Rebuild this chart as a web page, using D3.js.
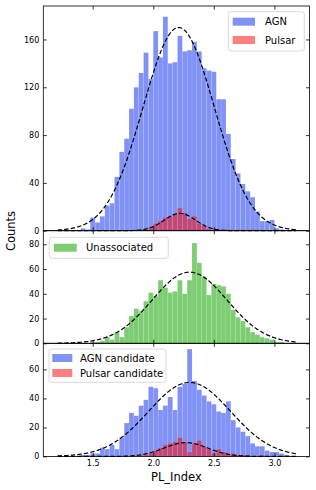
<!DOCTYPE html>
<html>
<head>
<meta charset="utf-8">
<script src="https://cdn.jsdelivr.net/npm/d3@7"></script>
<style>
  body { margin: 0; background: #fff; }
  svg { display: block; font-family: "DejaVu Sans", sans-serif; }
</style>
</head>
<body>
<div id="chart"></div>
<script>
// Histogram bins (left edges + last right edge), shared by every panel
const binEdges = [1.36, 1.40, 1.44, 1.48, 1.52, 1.56, 1.60, 1.64, 1.68, 1.72, 1.76,
  1.80, 1.84, 1.88, 1.92, 1.96, 2.00, 2.04, 2.08, 2.12, 2.16, 2.20, 2.24, 2.28,
  2.32, 2.36, 2.40, 2.44, 2.48, 2.52, 2.56, 2.60, 2.64, 2.68, 2.72, 2.76, 2.80,
  2.84, 2.88, 2.92, 2.96, 3.00, 3.04, 3.08, 3.12];

const agnCounts = [0, 2, 1, 11, 7, 12, 21, 23, 45, 66, 77, 102, 120, 132, 149, 127,
  167, 145, 179, 140, 141, 163, 150, 151, 158, 150, 136, 134, 133, 110, 110, 81,
  60, 48, 39, 33, 28, 16, 8, 8, 9, 2, 1, 0];
const pulsarCounts = [0, 0, 0, 0, 0, 0, 0, 0, 0, 0, 0, 0, 0, 0, 1, 3, 6, 8, 11, 12,
  14, 19, 15, 10, 12, 6, 4, 2, 1, 1, 1, 1, 0, 1, 1, 0, 1, 1, 0, 0, 0, 0, 0, 0];
const unassocCounts = [0, 0, 0, 1, 1, 2, 5, 3, 9, 5, 13, 22, 28, 26, 34, 41, 38, 51,
  45, 41, 42, 51, 40, 51, 81, 65, 54, 39, 48, 47, 46, 40, 27, 21, 18, 13, 9, 7,
  5, 4, 3, 1, 1, 0];
const agnCandCounts = [0, 1, 1, 2, 2, 6, 5, 8, 5, 13, 23, 30, 28, 35, 39, 48, 47, 32,
  35, 41, 32, 48, 50, 74, 52, 46, 42, 38, 36, 31, 30, 38, 25, 20, 17, 14, 9, 7,
  7, 4, 3, 3, 2, 1];
const pulsarCandCounts = [0, 0, 0, 0, 0, 0, 0, 0, 0, 0, 0, 0, 0, 1, 1, 2, 4, 6, 8, 9,
  10, 13, 10, 3, 9, 11, 7, 5, 2, 5, 3, 2, 2, 1, 1, 1, 0, 0, 1, 0, 0, 0, 0, 0];

// Gaussian fits: [mean, sigma, peak]
const agnFit = [2.21, 0.295, 170];
const pulsarFit = [2.22, 0.13, 14.5];
const unassocFit = [2.30, 0.31, 57.5];
const agnCandFit = [2.30, 0.34, 51];
const pulsarCandFit = [2.27, 0.18, 9.5];
const fitRange = [1.21, 3.18];

const xTicks = [1.5, 2.0, 2.5, 3.0];
const topYTicks = [0, 40, 80, 120, 160];
const midYTicks = [0, 20, 40, 60, 80];
const botYTicks = [0, 20, 40, 60];

const BLUE = "rgb(128,146,246)";
const GREEN = "rgb(125,206,115)";
const RED = "rgb(255,0,0)";

const width = 316;
const height = 490;
const left = 43.3;
const right = 309.5;
const tick = 3.5;

const svg = d3
  .select("#chart")
  .append("svg")
  .attr("width", width)
  .attr("height", height);

const x = d3.scaleLinear().domain([1.092, 3.29]).range([left, right]);

const panels = [
  {
    top: 6, bottom: 230.7, yMax: 188, yTicks: topYTicks,
    hists: [
      { counts: agnCounts, fill: BLUE, opacity: 1 },
      { counts: pulsarCounts, fill: RED, opacity: 0.5 },
    ],
    fits: [agnFit, pulsarFit],
    legend: {
      box: [228.3, 11.7, 76, 39.3], patchX: 232.7, patchW: 22.3, textX: 265,
      items: [
        { label: "AGN", fill: BLUE, opacity: 1, y: 21.7 },
        { label: "Pulsar", fill: RED, opacity: 0.5, y: 40 },
      ],
    },
  },
  {
    top: 230.7, bottom: 343.3, yMax: 91, yTicks: midYTicks,
    hists: [{ counts: unassocCounts, fill: GREEN, opacity: 1 }],
    fits: [unassocFit],
    legend: {
      box: [49.3, 237.3, 119, 21], patchX: 54, patchW: 22.7, textX: 86,
      items: [{ label: "Unassociated", fill: GREEN, opacity: 1, y: 247.7 }],
    },
  },
  {
    top: 343.3, bottom: 456.4, yMax: 78, yTicks: botYTicks,
    hists: [
      { counts: agnCandCounts, fill: BLUE, opacity: 1 },
      { counts: pulsarCandCounts, fill: RED, opacity: 0.5 },
    ],
    fits: [agnCandFit, pulsarCandFit],
    legend: {
      box: [49, 349, 117, 33.3], patchX: 52.3, patchW: 20, textX: 80,
      items: [
        { label: "AGN candidate", fill: BLUE, opacity: 1, y: 358 },
        { label: "Pulsar candidate", fill: RED, opacity: 0.5, y: 373 },
      ],
    },
  },
];

/*
 * Gaussian value of a fit at v
 *
 * @param fit - [mean, sigma, peak]
 */
const gauss = (fit, v) => fit[2] * Math.exp(-0.5 * Math.pow((v - fit[0]) / fit[1], 2));

const fitXs = d3.range(fitRange[0], fitRange[1] + 0.0001, 0.005);

panels.forEach((p, pi) => {
  const y = d3.scaleLinear().domain([0, p.yMax]).range([p.bottom, p.top]);
  const g = svg.append("g");

  // Bars
  p.hists.forEach((h) => {
    const bins = h.counts
      .map((c, i) => ({ c, x0: binEdges[i], x1: binEdges[i + 1] }))
      .filter((d) => d.c > 0);
    g.append("g")
      .selectAll("rect")
      .data(bins)
      .enter()
      .append("rect")
      .attr("x", (d) => x(d.x0))
      .attr("width", (d) => x(d.x1) - x(d.x0))
      .attr("y", (d) => y(d.c))
      .attr("height", (d) => y(0) - y(d.c))
      .attr("fill", h.fill)
      .attr("fill-opacity", h.opacity)
      .attr("stroke", "#fff")
      .attr("stroke-opacity", 0.15)
      .attr("stroke-width", 0.5);
  });

  // Gaussian fits
  p.fits.forEach((fit) => {
    g.append("path")
      .datum(fitXs)
      .attr("d", d3.line().x((d) => x(d)).y((d) => y(gauss(fit, d))))
      .attr("fill", "none")
      .attr("stroke", "#000")
      .attr("stroke-width", 1.2)
      .attr("stroke-dasharray", "4.4,2.2");
  });

  // Axes with inward ticks on all four sides
  const yLeft = d3.axisLeft(y).tickValues(p.yTicks).tickFormat(d3.format("d"))
    .tickSizeInner(-tick).tickSizeOuter(0).tickPadding(4);
  const yRight = d3.axisRight(y).tickValues(p.yTicks).tickFormat("")
    .tickSizeInner(-tick).tickSizeOuter(0);
  const xTop = d3.axisTop(x).tickValues(xTicks).tickFormat("")
    .tickSizeInner(-tick).tickSizeOuter(0);
  const xBottom = d3.axisBottom(x).tickValues(xTicks)
    .tickFormat(pi === panels.length - 1 ? d3.format(".1f") : "")
    .tickSizeInner(-tick).tickSizeOuter(0).tickPadding(4);

  const axes = [
    g.append("g").attr("transform", `translate(${left},0)`).call(yLeft),
    g.append("g").attr("transform", `translate(${right},0)`).call(yRight),
    g.append("g").attr("transform", `translate(0,${p.top})`).call(xTop),
    g.append("g").attr("transform", `translate(0,${p.bottom})`).call(xBottom),
  ];
  axes.forEach((a) => {
    a.select(".domain").remove();
    a.selectAll("line").attr("stroke", "#000").attr("stroke-width", 0.8);
    a.selectAll("text").attr("font-size", 8).attr("fill", "#000")
      .attr("font-family", "DejaVu Sans, sans-serif");
  });

  // Frame
  g.append("rect")
    .attr("x", left)
    .attr("y", p.top)
    .attr("width", right - left)
    .attr("height", p.bottom - p.top)
    .attr("fill", "none")
    .attr("stroke", "#000")
    .attr("stroke-width", 0.8);

  // Legend
  const lg = p.legend;
  const leg = g.append("g");
  leg.append("rect")
    .attr("x", lg.box[0])
    .attr("y", lg.box[1])
    .attr("width", lg.box[2])
    .attr("height", lg.box[3])
    .attr("rx", 2.5)
    .attr("fill", "#fff")
    .attr("fill-opacity", 0.8)
    .attr("stroke", "#d0d0d0")
    .attr("stroke-width", 0.8);
  lg.items.forEach((it) => {
    leg.append("rect")
      .attr("x", lg.patchX)
      .attr("y", it.y - 4)
      .attr("width", lg.patchW)
      .attr("height", 8)
      .attr("fill", it.fill)
      .attr("fill-opacity", it.opacity);
    leg.append("text")
      .attr("x", lg.textX)
      .attr("y", it.y)
      .attr("dy", "0.35em")
      .attr("font-size", 10)
      .text(it.label);
  });
});

// Axis titles
svg.append("text")
  .attr("x", (left + right) / 2)
  .attr("y", 480.5)
  .attr("text-anchor", "middle")
  .attr("font-size", 11.5)
  .text("PL_Index");

svg.append("text")
  .attr("transform", "translate(15," + 231 + ") rotate(-90)")
  .attr("text-anchor", "middle")
  .attr("font-size", 11.5)
  .text("Counts");
</script>
</body>
</html>
